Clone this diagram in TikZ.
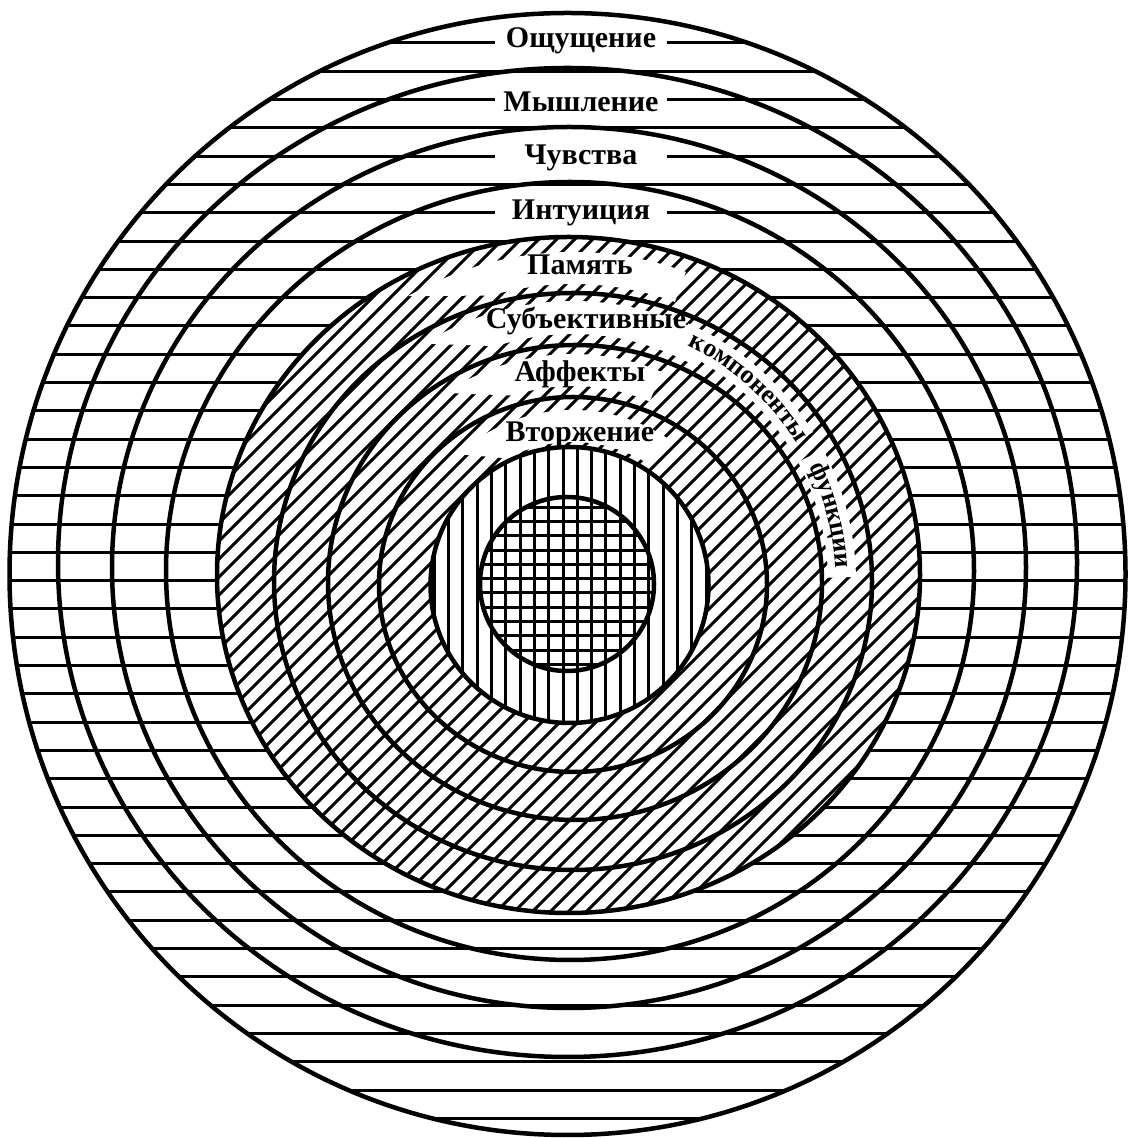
\documentclass[tikz,border=0pt]{standalone}
\usepackage{fontspec}
\setmainfont{Liberation Serif}
\usetikzlibrary{decorations.text}

\newcommand{\labfont}{\fontsize{30}{30}\selectfont\bfseries}
\newcommand{\arcfont}{\fontsize{26}{26}\selectfont\bfseries}

\begin{document}
\begin{tikzpicture}[x=1pt, y=1pt,
  ring/.style={line width=4.5pt},
  hatch/.style={line width=3pt},
  lab/.style={font=\labfont, inner sep=0pt, anchor=base},
  tag/.style={lab, fill=white, minimum width=172pt, minimum height=26pt},
  gap/.style={white, line width=28pt}]

\useasboundingbox (0,0) rectangle (1131,1138);

% centres of the rings
\coordinate (o1) at (567.5,564);
\coordinate (o2) at (567.5,575.5);
\coordinate (o3) at (569,570.5);
\coordinate (o4) at (570,567);
\coordinate (o5) at (568.5,563);
\coordinate (o6) at (573,556.5);
\coordinate (o7) at (575,555.5);
\coordinate (o8) at (573,553.5);
\coordinate (o9) at (569.5,553);
\coordinate (o10) at (567,554);
\coordinate (o) at (573,556);

% outer zone
\begin{scope}
  \clip (o1) ellipse [x radius=558, y radius=561];
  \foreach \k in {0,...,38}
    \draw[hatch] (0,{1095-28.3*\k}) -- (1131,{1095-28.3*\k});
\end{scope}

% middle zone
\fill[white] (o5) ellipse [x radius=351.5, y radius=338];
\begin{scope}
  \clip (o5) ellipse [x radius=351.5, y radius=338];
  \foreach \d in {-720,-702,...,720}
    \draw[hatch] (\d+150,150) -- (\d+1000,1000);
\end{scope}

% inner zone
\fill[white] (o9) ellipse [x radius=139, y radius=138];
\begin{scope}
  \clip (o9) ellipse [x radius=139, y radius=138];
  \foreach \k in {-10,...,10}
    \draw[hatch] ({563+14.3*\k},400) -- ({563+14.3*\k},700);
\end{scope}
\begin{scope}
  \clip (o10) circle [radius=87];
  \foreach \k in {-7,...,7}
    \draw[hatch] (470,{545+14.3*\k}) -- (670,{545+14.3*\k});
\end{scope}

% white bands for the labels
\fill[white] ([shift={(70:330)}]o) arc [start angle=70, end angle=120, radius=330]
  -- ([shift={(106:298)}]o) arc [start angle=106, end angle=70, radius=298] -- cycle;
\fill[white] ([shift={(60:281)}]o) arc [start angle=60, end angle=122, radius=281]
  -- ([shift={(108:248)}]o) arc [start angle=108, end angle=60, radius=248] -- cycle;
\fill[white] ([shift={(67:228)}]o) arc [start angle=67, end angle=124, radius=228]
  -- ([shift={(108:196)}]o) arc [start angle=108, end angle=67, radius=196] -- cycle;
\fill[white] ([shift={(56:172)}]o) arc [start angle=56, end angle=132, radius=172]
  -- ([shift={(118:140)}]o) arc [start angle=118, end angle=56, radius=140] -- cycle;
\draw[gap] ([shift={(66:269)}]o) arc [start angle=66, end angle=32, radius=269];
\draw[gap] ([shift={(28:269)}]o) arc [start angle=28, end angle=1, radius=269];

% rings
\draw[ring] (o1) ellipse [x radius=558, y radius=561];
\draw[ring] (o2) ellipse [x radius=509.5, y radius=494.5];
\draw[ring] (o3) ellipse [x radius=457, y radius=440.5];
\draw[ring] (o4) ellipse [x radius=404, y radius=389];
\draw[ring] (o5) ellipse [x radius=351.5, y radius=338];
\draw[ring] (o6) ellipse [x radius=299, y radius=288.5];
\draw[ring] (o7) ellipse [x radius=247, y radius=237.5];
\draw[ring] (o8) ellipse [x radius=194, y radius=187.5];
\draw[ring] (o9) ellipse [x radius=139, y radius=138];
\draw[ring] (o10) circle [radius=87];

% labels
\node[tag] (feel) at (581,1090) {Ощущение};
\node[tag] (think) at (581,1026) {Мышление};
\node[tag] (sense) at (581,973) {Чувства};
\node[tag] (intu) at (581,918) {Интуиция};
\node[lab] (mem) at (580,863) {Память};
\node[lab] (subj) at (586,809) {Субъективные};
\node[lab] (aff) at (580,756) {Аффекты};
\node[lab] (intr) at (580,696) {Вторжение};

\path[decorate, decoration={text along path, text align=center,
  text={|\arcfont|компоненты}}]
  ([shift={(64:263)}]o) arc [start angle=64, end angle=32, radius=263];
\path[decorate, decoration={text along path, text align=center,
  text={|\arcfont|функции}}]
  ([shift={(27:263)}]o) arc [start angle=27, end angle=2, radius=263];
\end{tikzpicture}
\end{document}
